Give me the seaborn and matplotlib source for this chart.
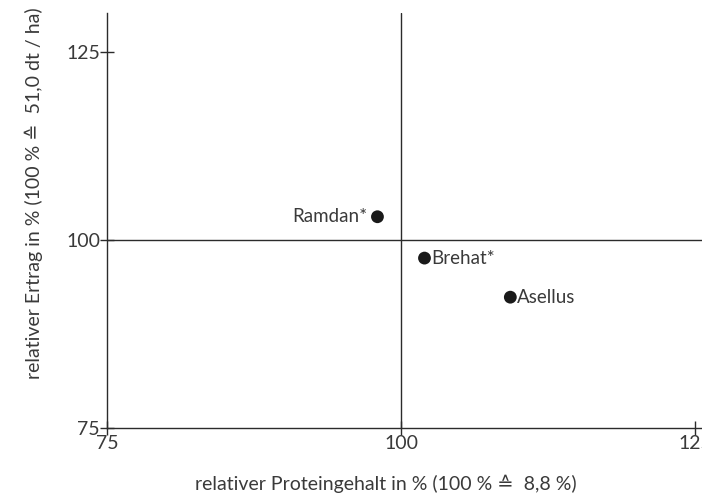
import numpy as np
import pandas as pd
import matplotlib
matplotlib.use("Agg")
import matplotlib.pyplot as plt
import seaborn as sns

# values
sorten = ["Ramdan*", "Brehat*", "Asellus"]
protein = [98.0, 102.0, 109.3]
ertrag = [103.1, 97.6, 92.4]
ticks = [75, 100, 125]

df = pd.DataFrame({"sorte": sorten, "protein": protein, "ertrag": ertrag})

sns.set_style("white")
plt.rcParams['font.family'] = ['Lato', 'DejaVu Sans']
ink = "#2b2b2b"
txt = "#3a3a3a"

fig = plt.figure(figsize=(7.02, 5.0), dpi=100)
ax = fig.add_axes([107/702, 72/500, 595/702, 415/500])

ax.axvline(100, color=ink, lw=1.0, zorder=1)
ax.axhline(100, color=ink, lw=1.0, zorder=1)

sns.scatterplot(data=df, x="protein", y="ertrag", color="#1a1a1a", s=85,
                edgecolor="none", ax=ax, zorder=3, legend=False)

for name, x, y in zip(sorten, protein, ertrag):
    if name.startswith("Ramdan"):
        ax.annotate(name, (x, y), xytext=(-7, 0), textcoords="offset points",
                    ha="right", va="center", fontsize=13.5, color=txt)
    else:
        ax.annotate(name, (x, y), xytext=(5, 0), textcoords="offset points",
                    ha="left", va="center", fontsize=13.5, color=txt)

ax.set_xlim(75, 125.6)
ax.set_ylim(75, 130.2)
ax.set_xticks(ticks)
ax.set_yticks(ticks)
ax.tick_params(bottom=True, left=True, direction="inout", length=10,
               width=1.0, color=ink, labelsize=14, labelcolor=txt, pad=0)
for side in ["top", "right"]:
    ax.spines[side].set_visible(False)
for side in ["left", "bottom"]:
    ax.spines[side].set_color(ink)
    ax.spines[side].set_linewidth(1.0)

ax.set_xlabel("relativer Proteingehalt in % (100 % \u2259  8,8 %)", fontsize=14, color=txt)
ax.set_ylabel("relativer Ertrag in % (100 % \u2259  51,0 dt / ha)", fontsize=14, color=txt)
ax.xaxis.set_label_coords((386 - 107) / 595, -47 / 415)
ax.yaxis.set_label_coords(-64 / 595, (428 - 193) / 415)

fig.savefig("out.png", dpi=100)
